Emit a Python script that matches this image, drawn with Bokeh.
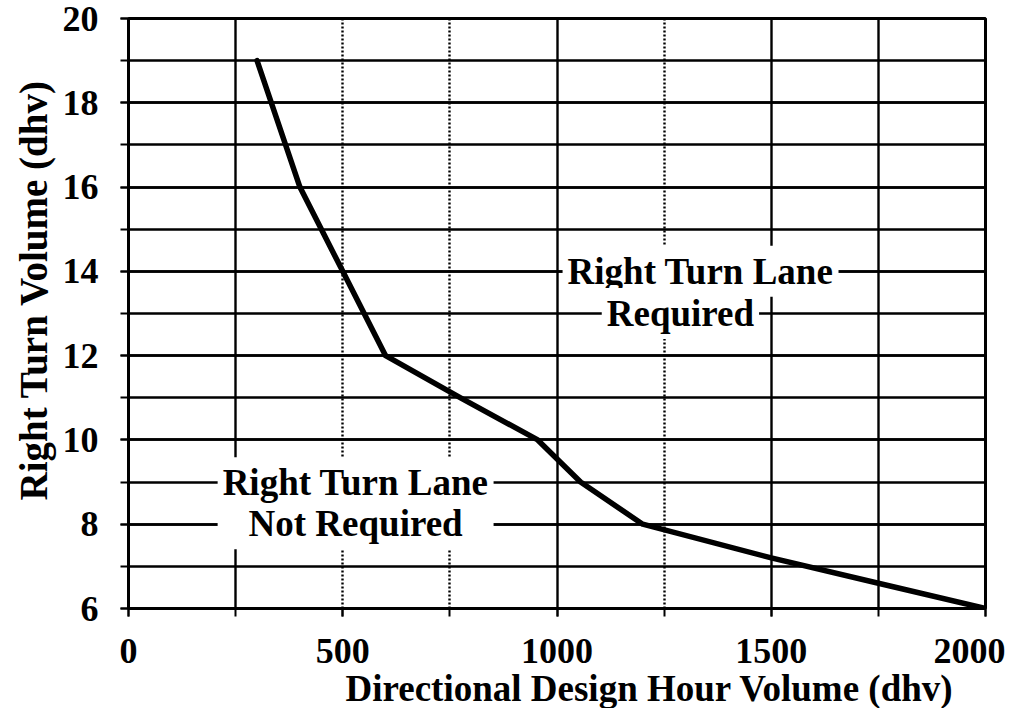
from bokeh.plotting import figure
from bokeh.models import SingleIntervalTicker, FixedTicker, Grid, ColumnDataSource, Range1d, Title
from bokeh.core.properties import value
from bokeh.embed import file_html
from bokeh.resources import INLINE

# ---- data ----
dhv = [300, 400, 500, 600, 775, 955, 1055, 1200, 1500, 1750, 2000]
right_turn = [19, 16, 14, 12, 11, 10, 9, 8, 7.2, 6.6, 6]

label_text = ["Right Turn Lane\nNot Required", "Right Turn Lane", "Required"]
label_x = [530, 1335, 1288]
label_y = [8.5, 14, 13]

x_solid_grid = [250, 1000, 1500, 1750]
x_dotted_grid = [500, 750, 1250]

x_title = "Directional Design Hour Volume (dhv)"
y_title = "Right Turn Volume (dhv)"

FONT = "Liberation Serif"

p = figure(frame_width=857, frame_height=590, output_backend="svg", toolbar_location=None,
           x_range=Range1d(0, 2000), y_range=Range1d(6, 20),
           min_border_left=128, min_border_top=18, min_border_right=20, min_border_bottom=0)
p.background_fill_color = "white"
p.border_fill_color = "white"
p.outline_line_color = "black"
p.outline_line_width = 3

# axes
p.xaxis.ticker = SingleIntervalTicker(interval=500, num_minor_ticks=2)
p.yaxis.ticker = SingleIntervalTicker(interval=2, num_minor_ticks=2)
for ax in (p.xaxis, p.yaxis):
    ax.axis_line_color = "black"
    ax.axis_line_width = 3
    ax.major_tick_in = 0
    ax.minor_tick_in = 0
    ax.major_tick_out = 8
    ax.minor_tick_out = 8
    ax.major_tick_line_color = "black"
    ax.minor_tick_line_color = "black"
    ax.major_tick_line_width = 2
    ax.minor_tick_line_width = 2
    ax.major_label_text_font = FONT
    ax.major_label_text_font_style = "bold"
    ax.major_label_text_font_size = "36px"
    ax.major_label_text_color = "black"

p.xaxis.major_label_standoff = 22
p.yaxis.major_label_standoff = 22

# axis titles (offset like in the reference)
tx = Title(text=x_title, align="left", offset=217, standoff=0,
           text_font=FONT, text_font_style="bold", text_font_size="37px", text_color="black")
p.add_layout(tx, "below")
ty = Title(text=y_title, align="left", offset=108, standoff=10,
           text_font=FONT, text_font_style="bold", text_font_size="39px", text_color="black")
p.add_layout(ty, "left")

# grids
p.ygrid.grid_line_color = "black"
p.ygrid.grid_line_width = 2.5
p.ygrid.minor_grid_line_color = "black"
p.ygrid.minor_grid_line_width = 2.5
p.xgrid.grid_line_color = None

g_solid = Grid(dimension=0, ticker=FixedTicker(ticks=x_solid_grid),
               grid_line_color="black", grid_line_width=2.4)
g_dotted = Grid(dimension=0, ticker=FixedTicker(ticks=x_dotted_grid),
                grid_line_color="black", grid_line_width=2.4, grid_line_dash="2 2")
p.add_layout(g_solid)
p.add_layout(g_dotted)

# region labels with white background covering grid lines
src = ColumnDataSource(dict(x=label_x, y=label_y, t=label_text))
p.text(x="x", y="y", text="t", source=src,
       text_font=value(FONT), text_font_style="bold", text_font_size="37px",
       text_color="black", text_align="center", text_baseline="middle",
       text_line_height=1.0, background_fill_color="white", padding=5)

# curve
p.line(dhv, right_turn, line_color="black", line_width=5.5, line_join="round", line_cap="round")

open("out.html", "w").write(file_html(p, INLINE))
